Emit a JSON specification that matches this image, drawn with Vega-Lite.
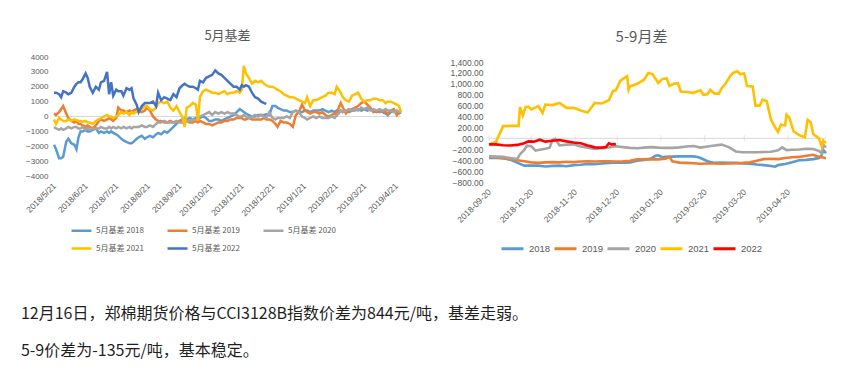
{
"$schema": "https://vega.github.io/schema/vega-lite/v6.json",
"background": "white",
"padding": {"left": 20, "top": 29, "right": 5, "bottom": 5},
"config": {"view": {"stroke": null}, "font": "Liberation Sans"},
"title": {"text": "12月16日，郑棉期货价格与CCI3128B指数价差为844元/吨，基差走弱。", "subtitle": "5-9价差为-135元/吨，基本稳定。", "orient": "bottom", "anchor": "start", "frame": "bounds", "offset": 51, "dx": -3.5, "font": "Noto Sans CJK SC", "fontSize": 16, "fontWeight": "normal", "color": "#1f1f1f", "subtitleFont": "Noto Sans CJK SC", "subtitleFontSize": 16, "subtitleColor": "#1f1f1f", "subtitlePadding": 21},
"bounds": "flush",
"spacing": 88,
"resolve": {"scale": {"color": "independent", "x": "independent", "y": "independent"}, "legend": {"color": "independent"}},
"datasets": {
"L": [
{"d":"2018/5/21","2018":-1900,"2019":200,"2020":-700,"2021":-200,"2022":1600},
{"d":"2018/5/23","2018":-2200,"2019":100,"2020":-800,"2021":-500,"2022":1600},
{"d":"2018/5/26","2018":-2800,"2019":300,"2020":-900,"2021":-100,"2022":1500},
{"d":"2018/5/28","2018":-2800,"2019":500,"2020":-800,"2021":-200,"2022":1300},
{"d":"2018/5/30","2018":-2700,"2019":700,"2020":-900,"2021":-300,"2022":1700},
{"d":"2018/6/2","2018":-1700,"2019":200,"2020":-800,"2021":-300,"2022":1600},
{"d":"2018/6/4","2018":-1500,"2019":-100,"2020":-700,"2021":-200,"2022":1500},
{"d":"2018/6/7","2018":-1800,"2019":-300,"2020":-800,"2021":-300,"2022":1600},
{"d":"2018/6/10","2018":-1900,"2019":-400,"2020":-700,"2021":-200,"2022":2000},
{"d":"2018/6/12","2018":-2200,"2019":-300,"2020":-700,"2021":-250,"2022":2200},
{"d":"2018/6/14","2018":-1400,"2019":-500,"2020":-800,"2021":-300,"2022":2300},
{"d":"2018/6/16","2018":-1000,"2019":-500,"2020":-800,"2021":-300,"2022":2300},
{"d":"2018/6/18","2018":-1000,"2019":-600,"2020":-700,"2021":-350,"2022":2500},
{"d":"2018/6/21","2018":-900,"2019":-700,"2020":-900,"2021":-300,"2022":2900},
{"d":"2018/6/23","2018":-1000,"2019":-600,"2020":-800,"2021":-400,"2022":2600},
{"d":"2018/6/25","2018":-1000,"2019":-700,"2020":-900,"2021":-400,"2022":2000},
{"d":"2018/6/28","2018":-900,"2019":-800,"2020":-800,"2021":-500,"2022":1600},
{"d":"2018/7/1","2018":-800,"2019":-600,"2020":-800,"2021":-300,"2022":2000},
{"d":"2018/7/4","2018":-1100,"2019":-300,"2020":-800,"2021":-200,"2022":1800},
{"d":"2018/7/6","2018":-1000,"2019":-200,"2020":-700,"2021":-100,"2022":2300},
{"d":"2018/7/9","2018":-1100,"2019":-300,"2020":-800,"2021":0,"2022":2400},
{"d":"2018/7/12","2018":-1000,"2019":-200,"2020":-800,"2021":100,"2022":3000},
{"d":"2018/7/14","2018":-1100,"2019":-100,"2020":-700,"2021":0,"2022":1500},
{"d":"2018/7/16","2018":-1000,"2019":-200,"2020":-800,"2021":0,"2022":2300},
{"d":"2018/7/18","2018":-1100,"2019":-300,"2020":-700,"2021":-100,"2022":1400},
{"d":"2018/7/21","2018":-1200,"2019":-100,"2020":-800,"2021":0,"2022":1800},
{"d":"2018/7/23","2018":-1300,"2019":600,"2020":-700,"2021":100,"2022":1700},
{"d":"2018/7/26","2018":-1500,"2019":400,"2020":-800,"2021":300,"2022":1700},
{"d":"2018/7/28","2018":-1600,"2019":400,"2020":-700,"2021":200,"2022":1400},
{"d":"2018/7/31","2018":-1700,"2019":300,"2020":-800,"2021":300,"2022":1900},
{"d":"2018/8/3","2018":-1800,"2019":400,"2020":-700,"2021":100,"2022":1800},
{"d":"2018/8/5","2018":-1800,"2019":300,"2020":-800,"2021":300,"2022":1900},
{"d":"2018/8/7","2018":-1700,"2019":400,"2020":-700,"2021":200,"2022":1200},
{"d":"2018/8/10","2018":-1500,"2019":500,"2020":-700,"2021":300,"2022":800},
{"d":"2018/8/12","2018":-1400,"2019":400,"2020":-700,"2021":400,"2022":300},
{"d":"2018/8/15","2018":-1300,"2019":300,"2020":-600,"2021":500,"2022":700},
{"d":"2018/8/18","2018":-1500,"2019":400,"2020":-700,"2021":700,"2022":900},
{"d":"2018/8/20","2018":-1400,"2019":600,"2020":-700,"2021":700,"2022":900},
{"d":"2018/8/23","2018":-1300,"2019":400,"2020":-600,"2021":500,"2022":900},
{"d":"2018/8/26","2018":-1400,"2019":0,"2020":-700,"2021":400,"2022":1000},
{"d":"2018/8/29","2018":-1200,"2019":-200,"2020":-500,"2021":600,"2022":700},
{"d":"2018/8/31","2018":-1100,"2019":-300,"2020":-400,"2021":900,"2022":1600},
{"d":"2018/9/3","2018":-1200,"2019":-300,"2020":-400,"2021":1000,"2022":1100},
{"d":"2018/9/6","2018":-1000,"2019":-400,"2020":-300,"2021":900,"2022":1300},
{"d":"2018/9/9","2018":-1100,"2019":-400,"2020":-400,"2021":1000,"2022":1200},
{"d":"2018/9/12","2018":-900,"2019":-300,"2020":-400,"2021":600,"2022":1100},
{"d":"2018/9/15","2018":-700,"2019":-400,"2020":-400,"2021":400,"2022":1500},
{"d":"2018/9/18","2018":-500,"2019":-400,"2020":-300,"2021":700,"2022":1300},
{"d":"2018/9/21","2018":-300,"2019":-300,"2020":-400,"2021":300,"2022":1900},
{"d":"2018/9/24","2018":-200,"2019":-400,"2020":-400,"2021":-100,"2022":2100},
{"d":"2018/9/26","2018":-100,"2019":-400,"2020":-400,"2021":-700,"2022":2200},
{"d":"2018/9/28","2018":-200,"2019":-300,"2020":-300,"2021":600,"2022":2100},
{"d":"2018/10/1","2018":-100,"2019":-400,"2020":-300,"2021":700,"2022":2000},
{"d":"2018/10/4","2018":-200,"2019":-400,"2020":-200,"2021":900,"2022":2000},
{"d":"2018/10/7","2018":-100,"2019":-300,"2020":-200,"2021":800,"2022":1900},
{"d":"2018/10/9","2018":-200,"2019":-400,"2020":-200,"2021":-300,"2022":1800},
{"d":"2018/10/11","2018":-100,"2019":-300,"2020":0,"2021":1300,"2022":2400},
{"d":"2018/10/14","2018":0,"2019":-400,"2020":100,"2021":1700,"2022":2300},
{"d":"2018/10/17","2018":-100,"2019":-500,"2020":200,"2021":1800,"2022":2600},
{"d":"2018/10/20","2018":-300,"2019":-500,"2020":300,"2021":1700,"2022":2700},
{"d":"2018/10/23","2018":-300,"2019":-600,"2020":100,"2021":1600,"2022":2800},
{"d":"2018/10/26","2018":-200,"2019":-500,"2020":300,"2021":1600,"2022":3100},
{"d":"2018/10/29","2018":-200,"2019":-400,"2020":200,"2021":1500,"2022":2900},
{"d":"2018/11/1","2018":-300,"2019":-400,"2020":300,"2021":1600,"2022":2800},
{"d":"2018/11/4","2018":-200,"2019":-300,"2020":200,"2021":1700,"2022":2600},
{"d":"2018/11/7","2018":-100,"2019":-300,"2020":300,"2021":1500,"2022":2400},
{"d":"2018/11/10","2018":0,"2019":-200,"2020":200,"2021":1600,"2022":2200},
{"d":"2018/11/13","2018":100,"2019":-200,"2020":200,"2021":1600,"2022":2000},
{"d":"2018/11/16","2018":300,"2019":-100,"2020":100,"2021":1700,"2022":2000},
{"d":"2018/11/19","2018":500,"2019":-100,"2020":0,"2021":1600,"2022":1800},
{"d":"2018/11/21","2018":400,"2019":-100,"2020":0,"2021":1800,"2022":2100},
{"d":"2018/11/23","2018":300,"2019":-200,"2020":100,"2021":3400,"2022":2000},
{"d":"2018/11/25","2018":200,"2019":-200,"2020":0,"2021":2900,"2022":2100},
{"d":"2018/11/28","2018":100,"2019":-100,"2020":-100,"2021":2600,"2022":2000},
{"d":"2018/12/1","2018":0,"2019":-200,"2020":0,"2021":2200,"2022":1600},
{"d":"2018/12/4","2018":0,"2019":-200,"2020":100,"2021":2400,"2022":1300},
{"d":"2018/12/7","2018":100,"2019":-200,"2020":0,"2021":2300,"2022":1200},
{"d":"2018/12/10","2018":100,"2019":-200,"2020":100,"2021":2400,"2022":1000},
{"d":"2018/12/13","2018":100,"2019":-100,"2020":0,"2021":2200,"2022":900},
{"d":"2018/12/15","2018":150,"2019":-200,"2020":-100,"2021":2100,"2022":850},
{"d":"2018/12/18","2018":100,"2019":-200,"2020":300,"2021":2000},
{"d":"2018/12/21","2018":700,"2019":-300,"2020":-100,"2021":2000},
{"d":"2018/12/24","2018":700,"2019":-500,"2020":-200,"2021":1900},
{"d":"2018/12/26","2018":600,"2019":-700,"2020":-100,"2021":1800},
{"d":"2018/12/29","2018":500,"2019":-300,"2020":-100,"2021":1700},
{"d":"2019/1/1","2018":400,"2019":-400,"2020":-100,"2021":1500},
{"d":"2019/1/4","2018":400,"2019":-400,"2020":0,"2021":1400},
{"d":"2019/1/7","2018":300,"2019":-500,"2020":-100,"2021":1300},
{"d":"2019/1/10","2018":300,"2019":-700,"2020":300,"2021":1300},
{"d":"2019/1/13","2018":400,"2019":100,"2020":400,"2021":1200},
{"d":"2019/1/16","2018":300,"2019":300,"2020":300,"2021":1100},
{"d":"2019/1/19","2018":300,"2019":800,"2020":0,"2021":1000},
{"d":"2019/1/22","2018":400,"2019":400,"2020":-100,"2021":900},
{"d":"2019/1/24","2018":400,"2019":300,"2020":-200,"2021":1300},
{"d":"2019/1/27","2018":300,"2019":200,"2020":-100,"2021":700},
{"d":"2019/1/30","2018":400,"2019":300,"2020":0,"2021":1100},
{"d":"2019/2/2","2018":400,"2019":300,"2020":-100,"2021":1100},
{"d":"2019/2/5","2018":400,"2019":200,"2020":0,"2021":1200},
{"d":"2019/2/8","2018":500,"2019":300,"2020":-100,"2021":1300},
{"d":"2019/2/11","2018":400,"2019":100,"2020":-100,"2021":1400},
{"d":"2019/2/14","2018":300,"2019":0,"2020":-100,"2021":1600},
{"d":"2019/2/17","2018":400,"2019":100,"2020":0,"2021":1600},
{"d":"2019/2/20","2018":300,"2019":200,"2020":-100,"2021":1500},
{"d":"2019/2/22","2018":400,"2019":100,"2020":100,"2021":2000},
{"d":"2019/2/24","2018":300,"2019":600,"2020":200,"2021":1800},
{"d":"2019/2/26","2018":400,"2019":900,"2020":400,"2021":1600},
{"d":"2019/2/28","2018":300,"2019":600,"2020":300,"2021":1300},
{"d":"2019/3/3","2018":400,"2019":200,"2020":400,"2021":1100},
{"d":"2019/3/6","2018":300,"2019":400,"2020":500,"2021":1000},
{"d":"2019/3/9","2018":400,"2019":500,"2020":400,"2021":1400},
{"d":"2019/3/12","2018":400,"2019":600,"2020":500,"2021":1500},
{"d":"2019/3/15","2018":500,"2019":700,"2020":400,"2021":1600},
{"d":"2019/3/18","2018":400,"2019":900,"2020":600,"2021":1200},
{"d":"2019/3/21","2018":500,"2019":1000,"2020":500,"2021":1000},
{"d":"2019/3/24","2018":400,"2019":800,"2020":600,"2021":1100},
{"d":"2019/3/27","2018":500,"2019":600,"2020":400,"2021":1100},
{"d":"2019/3/30","2018":400,"2019":300,"2020":500,"2021":1200},
{"d":"2019/4/2","2018":300,"2019":400,"2020":400,"2021":1200},
{"d":"2019/4/5","2018":400,"2019":300,"2020":500,"2021":1100},
{"d":"2019/4/8","2018":300,"2019":400,"2020":400,"2021":1100},
{"d":"2019/4/11","2018":200,"2019":300,"2020":500,"2021":900},
{"d":"2019/4/13","2018":100,"2019":200,"2020":400,"2021":1000},
{"d":"2019/4/16","2018":300,"2019":400,"2020":400,"2021":1000},
{"d":"2019/4/19","2018":400,"2019":500,"2020":300,"2021":900},
{"d":"2019/4/22","2018":300,"2019":100,"2020":400,"2021":800},
{"d":"2019/4/24","2018":200,"2019":300,"2020":300,"2021":700},
{"d":"2019/4/26","2018":300,"2019":300,"2020":400,"2021":300}
],
"R": [
{"d":"2018/9/20","2018":-360,"2019":-340,"2020":-330,"2021":-115,"2022":-110},
{"d":"2018/9/25","2018":-360,"2019":-350,"2020":-335,"2021":-60,"2022":-110},
{"d":"2018/9/30","2018":-365,"2019":-365,"2020":-340,"2021":225,"2022":-125},
{"d":"2018/10/5","2018":-390,"2019":-380,"2020":-360,"2021":230,"2022":-130},
{"d":"2018/10/10","2018":-445,"2019":-400,"2020":-380,"2021":230,"2022":-120},
{"d":"2018/10/11","2021":230},
{"d":"2018/10/12","2020":-290,"2021":575},
{"d":"2018/10/14","2021":420},
{"d":"2018/10/15","2018":-500,"2019":-420,"2020":-210,"2021":500,"2022":-90},
{"d":"2018/10/16","2021":575},
{"d":"2018/10/17","2020":-135},
{"d":"2018/10/18","2021":580,"2022":-55},
{"d":"2018/10/20","2018":-500,"2019":-440,"2020":-145,"2021":530},
{"d":"2018/10/22","2022":-60},
{"d":"2018/10/23","2020":-225},
{"d":"2018/10/25","2018":-500,"2019":-450,"2020":-215,"2021":590},
{"d":"2018/10/26","2020":-210,"2022":-25},
{"d":"2018/10/28","2021":465},
{"d":"2018/10/30","2018":-515,"2019":-440,"2020":-190,"2021":620,"2022":-60},
{"d":"2018/11/2","2020":-170},
{"d":"2018/11/4","2018":-505,"2019":-435,"2020":-30,"2021":610,"2022":-45},
{"d":"2018/11/6","2020":-10},
{"d":"2018/11/9","2018":-500,"2019":-440,"2020":-130,"2021":650,"2022":-30},
{"d":"2018/11/14","2018":-510,"2019":-430,"2020":-115,"2021":560,"2022":-55},
{"d":"2018/11/19","2018":-490,"2019":-435,"2020":-110,"2021":560,"2022":-75},
{"d":"2018/11/24","2018":-485,"2019":-425,"2020":-150,"2021":510,"2022":-90},
{"d":"2018/11/29","2018":-470,"2019":-420,"2020":-170,"2021":475,"2022":-130},
{"d":"2018/12/4","2018":-475,"2019":-425,"2020":-195,"2021":650,"2022":-165},
{"d":"2018/12/9","2018":-460,"2019":-420,"2020":-180,"2021":640,"2022":-170},
{"d":"2018/12/12","2022":-160},
{"d":"2018/12/14","2018":-450,"2019":-420,"2020":-165,"2021":700,"2022":-90},
{"d":"2018/12/16","2022":-110},
{"d":"2018/12/17","2021":870},
{"d":"2018/12/19","2018":-440,"2019":-425,"2020":-145,"2021":880,"2022":-105},
{"d":"2018/12/22","2021":1050},
{"d":"2018/12/24","2018":-445,"2019":-420,"2020":-160,"2021":1090},
{"d":"2018/12/27","2021":1140},
{"d":"2018/12/28","2021":890},
{"d":"2018/12/29","2018":-440,"2019":-410,"2020":-175,"2021":950},
{"d":"2019/1/3","2018":-410,"2019":-385,"2020":-180,"2021":1000},
{"d":"2019/1/8","2018":-395,"2019":-385,"2020":-170,"2021":1075},
{"d":"2019/1/11","2021":1200},
{"d":"2019/1/13","2018":-370,"2019":-380,"2020":-160},
{"d":"2019/1/14","2021":1180},
{"d":"2019/1/16","2018":-320},
{"d":"2019/1/18","2018":-310,"2019":-385,"2020":-170,"2021":1015},
{"d":"2019/1/21","2018":-345,"2021":1090},
{"d":"2019/1/23","2018":-340,"2019":-375,"2020":-175},
{"d":"2019/1/24","2021":1100},
{"d":"2019/1/26","2019":-340,"2021":960},
{"d":"2019/1/28","2018":-335,"2019":-420,"2020":-175},
{"d":"2019/1/29","2021":1000},
{"d":"2019/2/1","2021":1010},
{"d":"2019/2/2","2018":-330,"2019":-445,"2020":-165},
{"d":"2019/2/3","2021":860},
{"d":"2019/2/7","2018":-330,"2019":-450,"2020":-150,"2021":850},
{"d":"2019/2/12","2018":-330,"2019":-455,"2020":-140,"2021":835},
{"d":"2019/2/15","2018":-340},
{"d":"2019/2/17","2018":-360,"2019":-465,"2020":-170,"2021":880},
{"d":"2019/2/19","2021":800},
{"d":"2019/2/22","2018":-420,"2019":-460,"2020":-150,"2021":810},
{"d":"2019/2/24","2021":890},
{"d":"2019/2/27","2018":-450,"2019":-460,"2020":-130,"2021":820},
{"d":"2019/3/2","2021":820},
{"d":"2019/3/4","2018":-445,"2019":-465,"2020":-115,"2021":920},
{"d":"2019/3/7","2021":1010},
{"d":"2019/3/9","2018":-450,"2019":-460,"2020":-160},
{"d":"2019/3/10","2021":1140},
{"d":"2019/3/12","2021":1200},
{"d":"2019/3/14","2018":-450,"2019":-455,"2020":-240},
{"d":"2019/3/15","2021":1230},
{"d":"2019/3/17","2021":1180},
{"d":"2019/3/19","2018":-460,"2019":-450,"2020":-255},
{"d":"2019/3/20","2021":1190},
{"d":"2019/3/22","2021":960},
{"d":"2019/3/24","2018":-465,"2019":-440,"2020":-255},
{"d":"2019/3/26","2021":950},
{"d":"2019/3/28","2021":600},
{"d":"2019/3/29","2018":-480,"2019":-410,"2020":-255},
{"d":"2019/3/31","2021":600},
{"d":"2019/4/2","2021":710},
{"d":"2019/4/3","2018":-490,"2019":-380,"2020":-250},
{"d":"2019/4/5","2021":680},
{"d":"2019/4/8","2018":-505,"2019":-375,"2020":-245,"2021":340},
{"d":"2019/4/11","2018":-520,"2021":200},
{"d":"2019/4/13","2018":-490,"2019":-380,"2020":-220,"2021":120},
{"d":"2019/4/15","2021":250},
{"d":"2019/4/16","2020":-165},
{"d":"2019/4/18","2018":-470,"2019":-360,"2021":240},
{"d":"2019/4/19","2020":-215,"2021":435},
{"d":"2019/4/21","2021":380},
{"d":"2019/4/23","2018":-440,"2019":-345,"2020":-210},
{"d":"2019/4/24","2021":130},
{"d":"2019/4/28","2018":-400,"2019":-340,"2020":-205,"2021":60},
{"d":"2019/5/2","2021":20},
{"d":"2019/5/3","2018":-395,"2019":-320,"2020":-190},
{"d":"2019/5/4","2021":340},
{"d":"2019/5/6","2021":300},
{"d":"2019/5/8","2018":-380,"2019":-300,"2020":-195,"2021":80},
{"d":"2019/5/12","2018":-360,"2019":-340,"2020":-230,"2021":0},
{"d":"2019/5/14","2018":-300,"2020":-270,"2021":-150},
{"d":"2019/5/15","2018":-210,"2019":-350,"2020":-115,"2021":-40},
{"d":"2019/5/17","2018":-270,"2019":-365,"2020":-170,"2021":-85}
],
"RT": [
{"t":"2018/9/20"},{"t":"2018/10/20"},{"t":"2018/11/20"},{"t":"2018/12/20"},{"t":"2019/1/20"},{"t":"2019/2/20"},{"t":"2019/3/20"},{"t":"2019/4/20"}
]
},
"hconcat": [
{
"width": 347, "height": 119,
"title": {"text": "5月基差", "font": "Noto Sans CJK SC", "fontSize": 13, "fontWeight": "normal", "color": "#595959", "offset": 10, "dx": 0},
"layer": [
{"data": {"values": [{}]}, "mark": {"type": "rule", "color": "#D9D9D9", "strokeWidth": 1},
"encoding": {"y": {"datum": 0, "type": "quantitative", "scale": {"domain": [-4000, 4000], "nice": false},
"axis": {"values": [-4000,-3000,-2000,-1000,0,1000,2000,3000,4000], "format": "d", "title": null, "domain": false, "ticks": false, "grid": false, "labelFontSize": 8, "labelColor": "#595959", "labelPadding": 6, "labelOverlap": false, "labelBound": false, "labelFlush": false}}}},
{"data": {"name": "L"},
"transform": [{"fold": ["2018","2019","2020","2021","2022"], "as": ["s","v"]}, {"filter": "isValid(datum.v)"}],
"mark": {"type": "line", "strokeWidth": 2.5},
"encoding": {
"x": {"field": "d", "type": "temporal", "scale": {"domain": [{"year":2018,"month":5,"date":21},{"year":2019,"month":4,"date":26}]},
"axis": {"values": [{"year":2018,"month":5,"date":21},{"year":2018,"month":6,"date":21},{"year":2018,"month":7,"date":21},{"year":2018,"month":8,"date":21},{"year":2018,"month":9,"date":21},{"year":2018,"month":10,"date":21},{"year":2018,"month":11,"date":21},{"year":2018,"month":12,"date":21},{"year":2019,"month":1,"date":21},{"year":2019,"month":2,"date":21},{"year":2019,"month":3,"date":21},{"year":2019,"month":4,"date":21}],
"format": "%Y/%-m/%-d", "labelAngle": -45, "labelAlign": "right", "labelBaseline": "middle", "labelFontSize": 8.5, "labelColor": "#595959", "title": null, "domain": false, "ticks": false, "grid": false, "labelPadding": 8, "labelOverlap": false, "labelBound": false, "labelFlush": false}},
"y": {"field": "v", "type": "quantitative", "scale": {"domain": [-4000, 4000], "nice": false},
"axis": {"values": [-4000,-3000,-2000,-1000,0,1000,2000,3000,4000], "format": "d", "title": null, "domain": false, "ticks": false, "grid": false, "labelFontSize": 8, "labelColor": "#595959", "labelPadding": 6, "labelOverlap": false, "labelBound": false, "labelFlush": false}},
"color": {"field": "s", "type": "nominal", "scale": {"domain": ["2018","2019","2020","2021","2022"], "range": ["#5B9BD5","#ED7D31","#A5A5A5","#FFC000","#4472C4"]},
"legend": {"orient": "none", "legendX": 16, "legendY": 162, "direction": "horizontal", "columns": 3, "title": null, "labelExpr": "'5月基差 ' + datum.label", "labelFont": "Noto Sans CJK SC", "labelFontSize": 8, "labelColor": "#595959", "symbolType": "stroke", "symbolSize": 400, "symbolStrokeWidth": 2.5, "columnPadding": 18, "rowPadding": 1, "labelOffset": 3, "padding": 0}}
}}
]
},
{
"width": 337, "height": 125,
"title": {"text": "5-9月差", "font": "Noto Sans CJK SC", "fontSize": 15, "fontWeight": "normal", "color": "#595959", "offset": 12.5, "dx": -16},
"layer": [
{"data": {"values": [{}]}, "mark": {"type": "rule", "color": "#D9D9D9", "strokeWidth": 1},
"encoding": {"y": {"datum": 0, "type": "quantitative", "scale": {"domain": [-800, 1492], "nice": false},
"axis": {"values": [-800,-600,-400,-200,0,200,400,600,800,1000,1200,1400], "labelExpr": "datum.value == 0 ? '00.00' : format(datum.value, ',.2f')", "title": null, "domain": false, "ticks": false, "grid": false, "labelFontSize": 8.5, "labelColor": "#595959", "labelPadding": 6, "labelOverlap": false, "labelBound": false, "labelFlush": false}}}},
{"data": {"name": "RT"}, "mark": {"type": "tick", "orient": "vertical", "size": 6, "thickness": 1, "color": "#D9D9D9"},
"encoding": {
"x": {"field": "t", "type": "temporal", "scale": {"domain": [{"year":2018,"month":9,"date":20},{"year":2019,"month":5,"date":17}]},
"axis": {"values": [{"year":2018,"month":9,"date":20},{"year":2018,"month":10,"date":20},{"year":2018,"month":11,"date":20},{"year":2018,"month":12,"date":20},{"year":2019,"month":1,"date":20},{"year":2019,"month":2,"date":20},{"year":2019,"month":3,"date":20},{"year":2019,"month":4,"date":20}],
"format": "%Y-%m-%d", "labelAngle": -45, "labelAlign": "right", "labelBaseline": "middle", "labelFontSize": 8.5, "labelColor": "#595959", "title": null, "domain": false, "ticks": false, "grid": false, "labelPadding": 8, "labelOverlap": false, "labelBound": false, "labelFlush": false}},
"y": {"datum": 0, "type": "quantitative", "scale": {"domain": [-800, 1492], "nice": false},
"axis": {"values": [-800,-600,-400,-200,0,200,400,600,800,1000,1200,1400], "labelExpr": "datum.value == 0 ? '00.00' : format(datum.value, ',.2f')", "title": null, "domain": false, "ticks": false, "grid": false, "labelFontSize": 8.5, "labelColor": "#595959", "labelPadding": 6, "labelOverlap": false, "labelBound": false, "labelFlush": false}}}},
{"data": {"name": "R"},
"transform": [{"fold": ["2018","2019","2020","2021","2022"], "as": ["s","v"]}, {"filter": "isValid(datum.v)"}],
"mark": {"type": "line", "strokeWidth": 2.6},
"encoding": {
"x": {"field": "d", "type": "temporal", "scale": {"domain": [{"year":2018,"month":9,"date":20},{"year":2019,"month":5,"date":17}]},
"axis": {"values": [{"year":2018,"month":9,"date":20},{"year":2018,"month":10,"date":20},{"year":2018,"month":11,"date":20},{"year":2018,"month":12,"date":20},{"year":2019,"month":1,"date":20},{"year":2019,"month":2,"date":20},{"year":2019,"month":3,"date":20},{"year":2019,"month":4,"date":20}],
"format": "%Y-%m-%d", "labelAngle": -45, "labelAlign": "right", "labelBaseline": "middle", "labelFontSize": 8.5, "labelColor": "#595959", "title": null, "domain": false, "ticks": false, "grid": false, "labelPadding": 8, "labelOverlap": false, "labelBound": false, "labelFlush": false}},
"y": {"field": "v", "type": "quantitative", "scale": {"domain": [-800, 1492], "nice": false},
"axis": {"values": [-800,-600,-400,-200,0,200,400,600,800,1000,1200,1400], "labelExpr": "datum.value == 0 ? '00.00' : format(datum.value, ',.2f')", "title": null, "domain": false, "ticks": false, "grid": false, "labelFontSize": 8.5, "labelColor": "#595959", "labelPadding": 6, "labelOverlap": false, "labelBound": false, "labelFlush": false}},
"color": {"field": "s", "type": "nominal", "scale": {"domain": ["2018","2019","2020","2021","2022"], "range": ["#5B9BD5","#ED7D31","#A5A5A5","#FFC000","#FF0000"]},
"legend": {"orient": "none", "legendX": 11, "legendY": 179, "direction": "horizontal", "columns": 5, "title": null, "labelFontSize": 9.5, "labelColor": "#595959", "symbolType": "stroke", "symbolSize": 484, "symbolStrokeWidth": 3, "columnPadding": -3, "labelOffset": 4, "padding": 0}}
}}
]
}
]
}
